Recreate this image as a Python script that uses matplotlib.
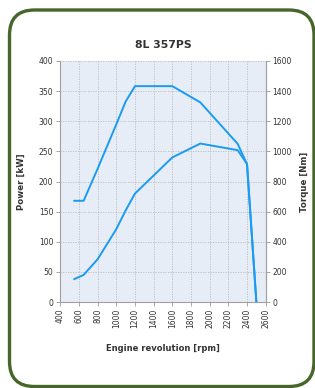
import matplotlib
matplotlib.use("Agg")
import matplotlib.pyplot as plt
from matplotlib.patches import FancyBboxPatch

title = "8L 357PS"
torque_rpm = [550, 650, 800, 1000, 1100, 1200, 1600, 1900, 2300, 2400, 2500]
torque_nm = [672, 672, 885, 1180, 1331, 1433, 1433, 1325, 1050, 915, 0]
power_rpm = [550, 650, 800, 1000, 1100, 1200, 1600, 1900, 2300, 2400, 2500]
power_kw = [38, 45, 71, 121, 152, 180, 240, 263, 252, 229, 0]
x_ticks = list(range(400, 2601, 200))
power_ticks = list(range(0, 401, 50))
torque_ticks = list(range(0, 1601, 200))

line_color = "#1A9BF2"
txt = "#333333"
fig = plt.figure(figsize=(3.15, 3.88), dpi=100)

# overlay for the rounded frame, in pixel coordinates
bg = fig.add_axes([0, 0, 1, 1], zorder=-1)
bg.set_xlim(0, 315)
bg.set_ylim(388, 0)
bg.axis("off")
frame = FancyBboxPatch((9.5, 10), 304.5, 376.5, boxstyle="round,pad=0,rounding_size=25",
                       fill=False, edgecolor="#46662A", linewidth=2.4)
bg.add_patch(frame)

ax = fig.add_axes([60.3/315, 1 - 302/388, (265.7-60.3)/315, (302-61)/388])
ax.set_facecolor("#E7EDF6")
ax.plot(power_rpm, power_kw, color=line_color, lw=1.4)
ax.set_xlim(400, 2600)
ax.set_ylim(0, 400)
ax.set_xticks(x_ticks)
ax.set_yticks(power_ticks)
ax.grid(True, color="#BBBBBB", linestyle=(0, (1.5, 1.5)), linewidth=0.6)
ax.tick_params(axis="x", labelrotation=90, labelsize=5.5, colors="#999999", labelcolor=txt, length=3, width=0.6, pad=1.5)
ax.tick_params(axis="y", labelsize=5.5, colors="#999999", labelcolor=txt, length=3, width=0.6, pad=2)
ax.spines["top"].set_visible(False)
for s in ["left", "bottom", "right"]:
    ax.spines[s].set_color("#A0A0A0")
    ax.spines[s].set_linewidth(0.8)
ax.set_ylabel("Power [kW]", fontsize=6.2, fontweight="bold", color=txt, labelpad=9)
ax.set_xlabel("Engine revolution [rpm]", fontsize=6.0, fontweight="bold", color=txt, labelpad=12)
ax.set_title(title, fontsize=7.8, fontweight="bold", color=txt, pad=9)

ax2 = ax.twinx()
ax2.plot(torque_rpm, torque_nm, color=line_color, lw=1.4)
ax2.set_ylim(0, 1600)
ax2.set_yticks(torque_ticks)
ax2.tick_params(axis="y", labelsize=5.5, colors="#999999", labelcolor=txt, length=3, width=0.6, pad=2)
for s in ["top", "left", "bottom"]:
    ax2.spines[s].set_visible(False)
ax2.spines["right"].set_color("#A0A0A0")
ax2.spines["right"].set_linewidth(0.8)
ax2.set_ylabel("Torque [Nm]", fontsize=6.2, fontweight="bold", color=txt, labelpad=6)

fig.savefig("out.png", dpi=100)
